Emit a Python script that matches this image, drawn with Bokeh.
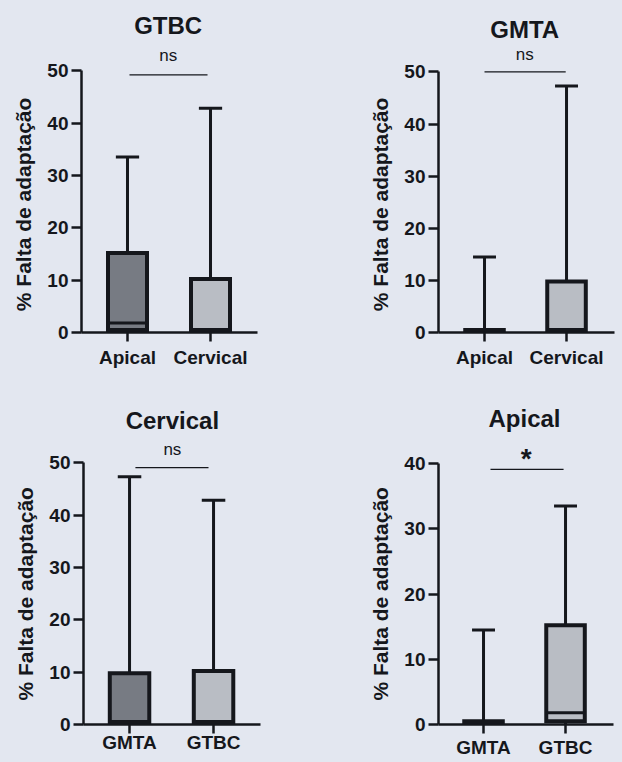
from bokeh.plotting import figure
from bokeh.layouts import column, row
from bokeh.models import FixedTicker, Range1d
from bokeh.core.properties import value
from bokeh.embed import file_html
from bokeh.resources import INLINE

BG = "#e3e7f0"
INK = "#15171c"
FILLS = ["#777b83", "#b9bdc4"]
FONT = "Liberation Sans"

# ---- data ----
group_names = ["GTBC Apical", "GTBC Cervical", "GMTA Apical", "GMTA Cervical"]
whisker_low = [0.0, 0.0, 0.0, 0.0]
q1 = [0.5, 0.5, 0.0, 0.5]
median = [1.8, 0.5, 0.0, 0.5]
q3 = [15.2, 10.2, 0.5, 9.8]
whisker_high = [33.5, 42.8, 14.5, 47.3]

panel_titles = ["GTBC", "GMTA", "Cervical", "Apical"]
panel_groups = [["GTBC Apical", "GTBC Cervical"],
                ["GMTA Apical", "GMTA Cervical"],
                ["GMTA Cervical", "GTBC Cervical"],
                ["GMTA Apical", "GTBC Apical"]]
panel_labels = [["Apical", "Cervical"], ["Apical", "Cervical"],
                ["GMTA", "GTBC"], ["GMTA", "GTBC"]]
panel_yticks = [[0, 10, 20, 30, 40, 50], [0, 10, 20, 30, 40, 50],
                [0, 10, 20, 30, 40, 50], [0, 10, 20, 30, 40]]
significance = ["ns", "ns", "ns", "*"]
y_label = "% Falta de adaptação"

# ---- layout (positions / styles) ----
W, H = 311, 381
layout = [
    dict(bl=81, br=54, bb=49, xs=0.446, xe=2.566, ye=63.4, tx=1.49, ty=58.6,
         sy=52.9, sl=49.2, s0=1.024, s1=1.964, sx=1.49, pad=13, so=5),
    dict(bl=127, br=8, bb=47, xs=0.439, xe=2.585, ye=63.7, tx=1.49, ty=58.2,
         sy=53.4, sl=50.0, s0=1.0, s1=1.99, sx=1.49, pad=13, so=5),
    dict(bl=83, br=51, bb=34, xs=0.452, xe=2.559, ye=65.5, tx=1.51, ty=58.1,
         sy=52.6, sl=49.06, s0=1.07, s1=1.94, sx=1.51, pad=14, so=-2),
    dict(bl=127, br=9, bb=38, xs=0.451, xe=2.585, ye=52.57, tx=1.5, ty=46.9,
         sy=40.8, sl=39.1, s0=1.085, s1=1.976, sx=1.52, pad=14, so=3),
]

BOX_W = 0.47
CAP_W = 0.28


def make_panel(i):
    L = layout[i]
    p = figure(width=W, height=H, output_backend="svg", toolbar_location=None,
               x_range=Range1d(L["xs"], L["xe"]), y_range=Range1d(0, L["ye"]),
               min_border_left=L["bl"], min_border_right=L["br"],
               min_border_bottom=L["bb"], min_border_top=0,
               background_fill_color=BG, border_fill_color=BG)
    p.outline_line_color = None
    p.grid.visible = False

    idx = [group_names.index(g) for g in panel_groups[i]]
    xs = [1, 2]
    lefts = [x - BOX_W / 2 for x in xs]
    rights = [x + BOX_W / 2 for x in xs]
    lo = [whisker_low[k] for k in idx]
    b1 = [q1[k] for k in idx]
    md = [median[k] for k in idx]
    b3 = [q3[k] for k in idx]
    hi = [whisker_high[k] for k in idx]

    # whiskers
    p.segment(x0=xs, x1=xs, y0=b3, y1=hi, line_color=INK, line_width=3)
    p.segment(x0=xs, x1=xs, y0=lo, y1=b1, line_color=INK, line_width=3)
    p.segment(x0=[x - CAP_W / 2 for x in xs], x1=[x + CAP_W / 2 for x in xs],
              y0=hi, y1=hi, line_color=INK, line_width=3)
    # boxes
    p.quad(left=lefts, right=rights, bottom=b1, top=b3, fill_color=FILLS,
           line_color=INK, line_width=4, line_join="miter")
    p.segment(x0=lefts, x1=rights, y0=md, y1=md, line_color=INK, line_width=3)

    # title and significance bar
    p.text(x=[L["tx"]], y=[L["ty"]], text=[panel_titles[i]],
           text_font=value(FONT), text_font_style="bold",
           text_font_size="24px", text_align="center",
           text_baseline="alphabetic", text_color=INK)
    sig = significance[i]
    p.text(x=[L["sx"]], y=[L["sy"]], text=[sig], text_font=value(FONT),
           text_font_style="bold" if sig == "*" else "normal",
           text_font_size="28px" if sig == "*" else "17px",
           text_align="center", text_baseline="alphabetic", text_color=INK)
    p.segment(x0=[L["s0"]], x1=[L["s1"]], y0=[L["sl"]], y1=[L["sl"]],
              line_color=INK, line_width=1.3)

    ymax = panel_yticks[i][-1]
    p.yaxis.ticker = FixedTicker(ticks=panel_yticks[i])
    p.yaxis.bounds = (0, ymax)
    p.xaxis.ticker = FixedTicker(ticks=xs)
    p.xaxis.major_label_overrides = {1: panel_labels[i][0], 2: panel_labels[i][1]}
    for ax in (p.xaxis, p.yaxis):
        ax.axis_line_color = INK
        ax.axis_line_width = 2.5
        ax.major_tick_line_color = INK
        ax.major_tick_line_width = 2.5
        ax.major_tick_in = 0
        ax.minor_tick_line_color = None
        ax.major_label_text_font = FONT
        ax.major_label_text_font_style = "bold"
        ax.major_label_text_font_size = "19px"
        ax.major_label_text_color = INK
    p.xaxis.major_tick_out = 9
    p.yaxis.major_tick_out = 10
    p.xaxis.major_label_standoff = L["so"]
    p.yaxis.major_label_standoff = 3

    # axis label centred on the 0..max span (frame is taller than the axis)
    p.yaxis.axis_label = y_label + "\u00a0" * L["pad"]
    p.yaxis.axis_label_text_font = FONT
    p.yaxis.axis_label_text_font_style = "bold"
    p.yaxis.axis_label_text_font_size = "21px"
    p.yaxis.axis_label_text_color = INK
    p.yaxis.axis_label_standoff = 9
    return p


panels = [make_panel(i) for i in range(4)]
st = {"background-color": BG}
layout_root = column(row(panels[0], panels[1], styles=st),
                     row(panels[2], panels[3], styles=st), styles=st)
open("out.html", "w").write(file_html(layout_root, INLINE))
